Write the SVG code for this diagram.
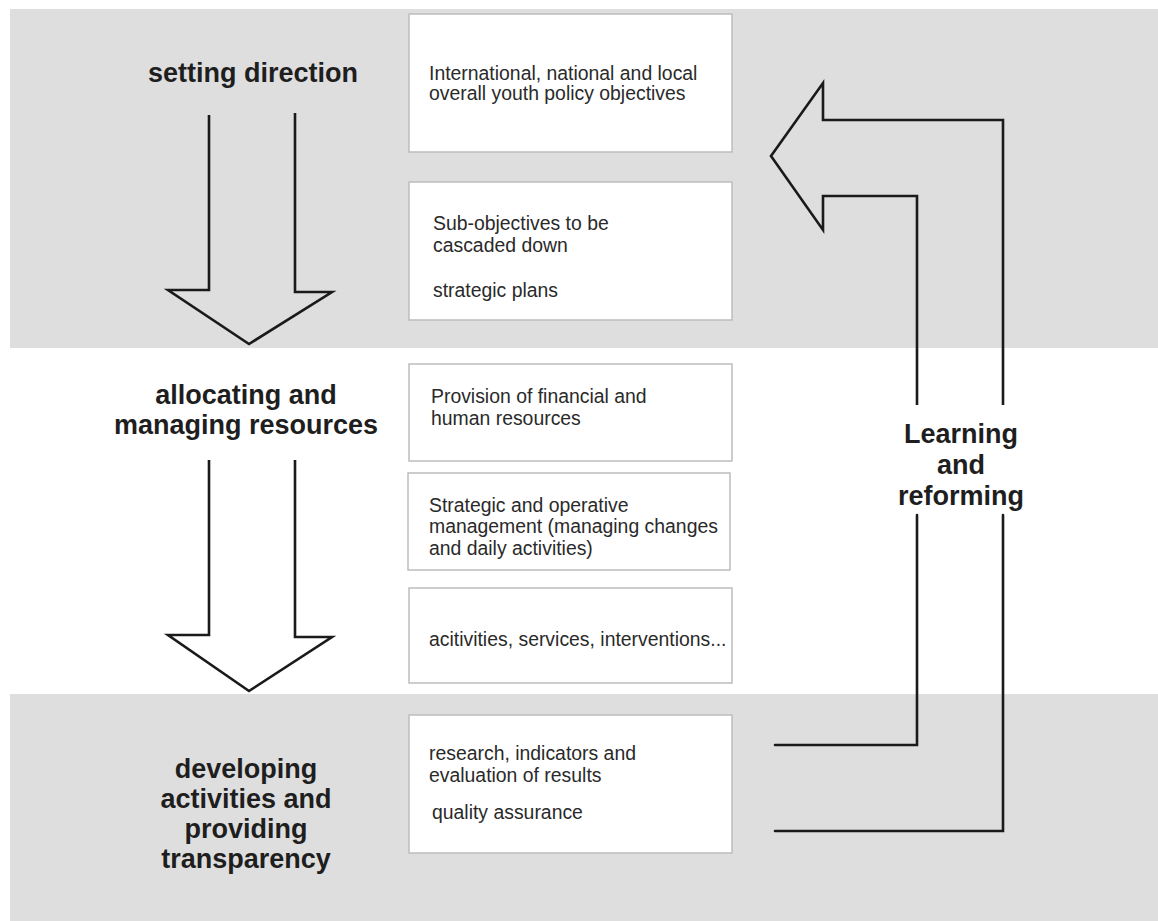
<svg xmlns="http://www.w3.org/2000/svg" width="1158" height="921" viewBox="0 0 1158 921">
<style>
.band{fill:#dedede}
.box{fill:#ffffff;stroke:#bdbdbd;stroke-width:1.5}
.bt{font-family:"Liberation Sans",Arial,sans-serif;font-size:19.4px;fill:#2a2a2a}
.lbl{font-family:"Liberation Sans",Arial,sans-serif;font-size:27px;font-weight:bold;fill:#1e1e1e;text-anchor:middle}
.arr{fill:none;stroke:#1a1a1a;stroke-width:2.6;stroke-linejoin:miter}
</style>
<rect x="0" y="0" width="1158" height="921" fill="#ffffff"/>
<rect class="band" x="10" y="9" width="1148" height="339"/>
<rect class="band" x="10" y="694" width="1148" height="227"/>

<g id="label-setting">
<text class="lbl" x="253" y="82">setting direction</text>
</g>
<g id="label-allocating">
<text class="lbl" x="246" y="404">allocating and</text>
<text class="lbl" x="246" y="434">managing resources</text>
</g>
<g id="label-developing">
<text class="lbl" x="246" y="778">developing</text>
<text class="lbl" x="246" y="808">activities and</text>
<text class="lbl" x="246" y="838">providing</text>
<text class="lbl" x="246" y="868">transparency</text>
</g>
<g id="label-learning">
<text class="lbl" x="961" y="443">Learning</text>
<text class="lbl" x="961" y="474">and</text>
<text class="lbl" x="961" y="505">reforming</text>
</g>

<g id="box1">
<rect class="box" x="409" y="14" width="323" height="138"/>
<text class="bt" x="429" y="80">International, national and local</text>
<text class="bt" x="429" y="100">overall youth policy objectives</text>
</g>
<g id="box2">
<rect class="box" x="409" y="182" width="323" height="138"/>
<text class="bt" x="433" y="230">Sub-objectives to be</text>
<text class="bt" x="433" y="252">cascaded down</text>
<text class="bt" x="433" y="297">strategic plans</text>
</g>
<g id="box3">
<rect class="box" x="409" y="364" width="323" height="97"/>
<text class="bt" x="431" y="403">Provision of financial and</text>
<text class="bt" x="431" y="425">human resources</text>
</g>
<g id="box4">
<rect class="box" x="408" y="473" width="322" height="97"/>
<text class="bt" x="429" y="512">Strategic and operative</text>
<text class="bt" x="429" y="533">management (managing changes</text>
<text class="bt" x="429" y="555">and daily activities)</text>
</g>
<g id="box5">
<rect class="box" x="409" y="588" width="323" height="95"/>
<text class="bt" x="429" y="646">acitivities, services, interventions...</text>
</g>
<g id="box6">
<rect class="box" x="409" y="715" width="323" height="138"/>
<text class="bt" x="429" y="760">research, indicators and</text>
<text class="bt" x="429" y="782">evaluation of results</text>
<text class="bt" x="432" y="819">quality assurance</text>
</g>

<g id="connectors">
<path class="arr" d="M209,115 V290 H168 L249,344 L332,292 H295 V113"/>
<path class="arr" d="M209,460 V635 H168 L249,691 L332,637 H295 V460"/>
<path class="arr" stroke-linecap="round" d="M775,745 H917 V515"/>
<path class="arr" d="M917,405 V196 H823 V230 L771,156 L823,83 V120 H1003 V405"/>
<path class="arr" stroke-linecap="round" d="M1003,515 V831 H775"/>
</g>
</svg>
